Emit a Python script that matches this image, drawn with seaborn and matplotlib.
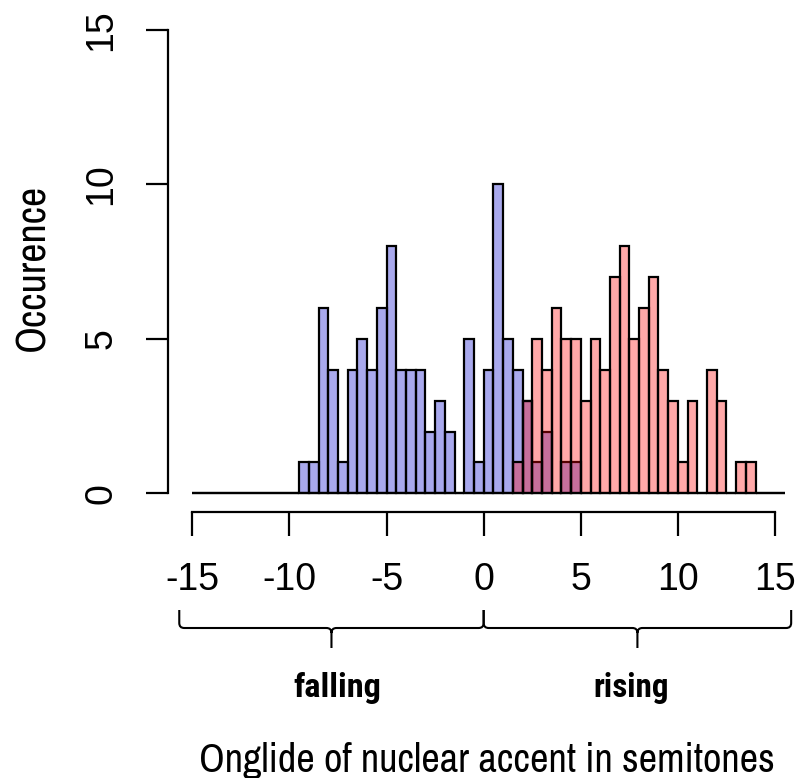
import numpy as np
import pandas as pd
import matplotlib
matplotlib.use("Agg")
import matplotlib.pyplot as plt
from matplotlib.path import Path
from matplotlib.patches import PathPatch
import matplotlib.font_manager as fm
import seaborn as sns

# ---------------- data ----------------
bin_width = 0.5
range_min, range_max = -15.0, 15.5

falling_start = -9.5
falling_counts = [1, 1, 6, 4, 1, 4, 5, 4, 6, 8, 4, 4, 4, 2, 3, 2, 0, 5, 1, 4,
                  10, 5, 4, 3, 1, 2, 0, 1, 1]
rising_start = 1.5
rising_counts = [1, 3, 5, 4, 6, 5, 5, 3, 5, 4, 7, 8, 5, 6, 7, 4, 3, 1, 3, 0,
                 4, 3, 0, 1, 1]

x_ticks = [-15, -10, -5, 0, 5, 10, 15]
y_ticks = [0, 5, 10, 15]
group_labels = ["falling", "rising"]
group_spans = [(-15.67, 0.0), (0.0, 15.83)]
x_label = "Onglide of nuclear accent in semitones"
y_label = "Occurence"

# ---------------- build tables ----------------
edges = np.arange(range_min, range_max + bin_width / 2, bin_width)
centers = edges[:-1] + bin_width / 2


def full_weights(start, counts):
    w = np.zeros(len(centers))
    i0 = int(round((start - range_min) / bin_width))
    w[i0:i0 + len(counts)] = counts
    return w


df_fall = pd.DataFrame({"x": centers, "w": full_weights(falling_start, falling_counts)})
df_rise = pd.DataFrame({"x": centers, "w": full_weights(rising_start, rising_counts)})

# ---------------- style / fonts ----------------
sns.set_style("white")


def _w(v):
    if isinstance(v, str):
        return fm.weight_dict.get(v, 400)
    return int(v)


entries = fm.fontManager.ttflist
names = {f.name for f in entries}
narrow_candidates = ["Liberation Sans Narrow", "Nimbus Sans Narrow", "Arial Narrow",
                     "Archivo Narrow", "Roboto Condensed", "PT Sans Narrow",
                     "Fira Sans Condensed", "IBM Plex Sans Condensed", "Liberation Sans"]
narrow_font = next((n for n in narrow_candidates if n in names), "DejaVu Sans")
bold_font = next((n for n in narrow_candidates
                  if any(f.name == n and _w(f.weight) >= 650 for f in entries)),
                 "DejaVu Sans")

base_family = ["Liberation Sans", "DejaVu Sans"]
label_family = [narrow_font, "DejaVu Sans"]
bold_family = [bold_font, "DejaVu Sans"]
plt.rcParams["font.family"] = base_family
plt.rcParams["text.color"] = "black"

W, H = 796, 778
fig = plt.figure(figsize=(W / 100, H / 100), dpi=100)


def fpos(px, py):
    return px / W, 1 - py / H


# axes placement (pixels)
ax_left, ax_right, ax_top, ax_bottom = 168, 790, 20, 512.3
ax = fig.add_axes([ax_left / W, 1 - ax_bottom / H, (ax_right - ax_left) / W, (ax_bottom - ax_top) / H])

lw = 1.6
bin_list = [float(e) for e in edges]
sns.histplot(data=df_fall, x="x", weights="w", bins=bin_list, stat="count", ax=ax,
             facecolor=(0.16, 0.16, 0.83, 0.4), edgecolor="black", linewidth=lw)
sns.histplot(data=df_rise, x="x", weights="w", bins=bin_list, stat="count", ax=ax,
             facecolor=(1, 0, 0, 0.34), edgecolor="black", linewidth=lw)

# data limits matching R's layout
ax.set_xlim(-16.25, 15.77)
ax.set_ylim(-0.615, 15.32)
ax.set_xlabel("")
ax.set_ylabel("")

for s in ["top", "right"]:
    ax.spines[s].set_visible(False)
ax.spines["left"].set_bounds(0, 15)
ax.spines["bottom"].set_bounds(-15, 15)
for s in ["left", "bottom"]:
    ax.spines[s].set_linewidth(lw)
    ax.spines[s].set_color("black")

ax.set_xticks(x_ticks)
ax.set_xticklabels([str(t) for t in x_ticks])
ax.set_yticks(y_ticks)
ax.set_yticklabels([str(t) for t in y_ticks])
ax.tick_params(axis="both", direction="out", length=17, width=lw, colors="black",
               labelcolor="black", labelsize=27, pad=19, bottom=True, left=True)
ax.tick_params(axis="y", length=16)
for lab in ax.get_yticklabels():
    lab.set_rotation(90)
    lab.set_va("center")
    lab.set_ha("right")

# ---------------- braces ----------------
fig.canvas.draw()
renderer = fig.canvas.get_renderer()
inv = ax.transData.inverted()


def ydata(py):
    return inv.transform((0, H - py))[1]


y_top, y_h, y_tip = ydata(610), ydata(628), ydata(648)
ry = ydata(628 - 5) - y_h
rx = 5 / 19.42


def brace(xa, xb):
    xm = (xa + xb) / 2
    verts = [
        (xa, y_top), (xa, y_h + ry),
        (xa, y_h), (xa + rx, y_h),
        (xm - rx, y_h),
        (xm, y_h), (xm, y_h - ry),
        (xm, y_tip),
        (xm, y_h - ry),
        (xm, y_h), (xm + rx, y_h),
        (xb - rx, y_h),
        (xb, y_h), (xb, y_h + ry),
        (xb, y_top),
    ]
    codes = [Path.MOVETO, Path.LINETO,
             Path.CURVE3, Path.CURVE3,
             Path.LINETO,
             Path.CURVE3, Path.CURVE3,
             Path.LINETO,
             Path.MOVETO,
             Path.CURVE3, Path.CURVE3,
             Path.LINETO,
             Path.CURVE3, Path.CURVE3,
             Path.LINETO]
    p = PathPatch(Path(verts, codes), facecolor="none", edgecolor="black",
                  linewidth=1.5, clip_on=False)
    ax.add_patch(p)


for (xa, xb) in group_spans:
    brace(xa, xb)


# ---------------- labels (size fitted to the reference widths) ----------------
def fitted_text(px, py, s, target_w, family, rotation=0, **kw):
    t = fig.text(*fpos(px, py), s, fontsize=20, family=family, **kw)
    w = t.get_window_extent(renderer).width
    t.set_fontsize(20 * target_w / w)
    t.set_rotation(rotation)
    return t


fitted_text(337, 697, group_labels[0], 88, bold_family, ha="center", va="baseline",
            fontweight="bold")
fitted_text(631, 697, group_labels[1], 75, bold_family, ha="center", va="baseline",
            fontweight="bold")
fitted_text(487, 772, x_label, 575, label_family, ha="center", va="baseline")
fitted_text(32, 267, y_label, 167, label_family, rotation=90, ha="center", va="center")

fig.savefig("out.png", dpi=100, facecolor="white")
